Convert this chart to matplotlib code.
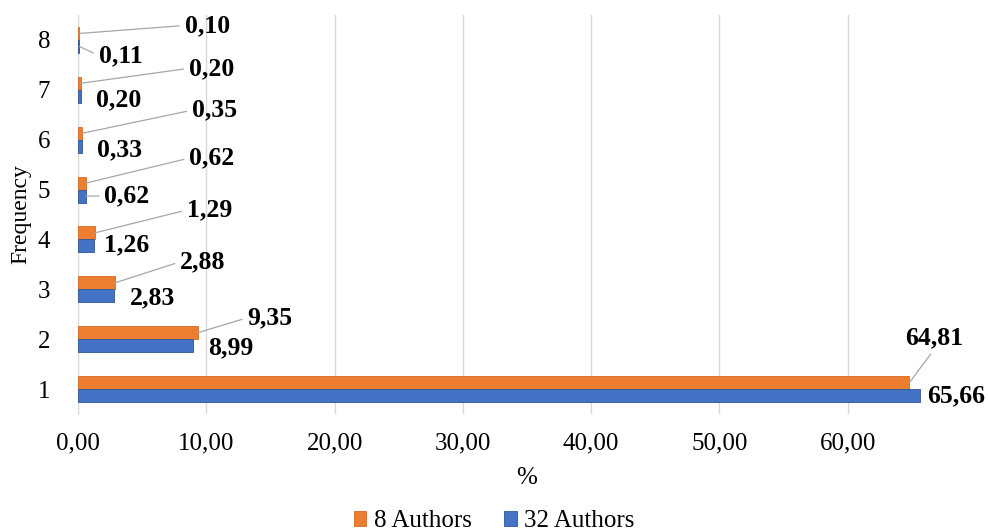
import matplotlib.pyplot as plt
import numpy as np

plt.rcParams['font.family'] = ['Liberation Serif', 'DejaVu Serif']

freq = [1, 2, 3, 4, 5, 6, 7, 8]
authors8 = [64.81, 9.35, 2.88, 1.29, 0.62, 0.35, 0.20, 0.10]
authors32 = [65.66, 8.99, 2.83, 1.26, 0.62, 0.33, 0.20, 0.11]

# label offsets in pixels (text centre relative to bar end)
off8 = [(25, 45), (72, 15), (88, 21), (115, 23), (126, 25), (132, 23), (131, 15), (128, 8)]
off32 = [(36, 0), (37, -2), (38, -2), (32, 1), (41, 0), (37, -4), (38, -4), (41, -9)]
lead32 = [False, False, False, False, True, False, False, True]

orange = '#ED7D31'
blue = '#4472C4'
h = 0.26

fig = plt.figure(figsize=(9.88, 5.31), dpi=100)
ax = fig.add_axes([78/988, 1-414/531, (976-78)/988, (414-15)/531])
y = np.array(freq)
ax.barh(y + h/2, authors8, height=h, color=orange, edgecolor='#D86A20', linewidth=0.6, label='8 Authors', zorder=3)
ax.barh(y - h/2, authors32, height=h, color=blue, edgecolor='#2F5597', linewidth=0.6, label='32 Authors', zorder=3)

ax.set_xlim(0, 70)
ax.set_ylim(0.5, 8.5)
ax.set_xticks(np.arange(0, 61, 10))
ax.set_xticklabels([f'{v:.2f}'.replace('.', ',') for v in np.arange(0, 61, 10)], fontsize=18)
ax.set_yticks(freq)
ax.set_yticklabels([str(f) for f in freq], fontsize=18)
ax.tick_params(axis='x', length=0, pad=13)
ax.tick_params(axis='y', length=0, pad=20)
ax.grid(axis='x', color='#D9D9D9', linewidth=1, zorder=0)
for s in ['top', 'right', 'bottom']:
    ax.spines[s].set_visible(False)
ax.spines['left'].set_color('#D9D9D9')
ax.set_xlabel('%', fontsize=18, labelpad=9)
ax.set_ylabel('Frequency', fontsize=17)
ax.yaxis.set_label_coords(-0.052, 0.5)

lp = dict(arrowstyle='-', color='#A6A6A6', lw=0.9, shrinkA=2, shrinkB=0)
for i, c in enumerate(freq):
    v = authors8[i]
    dx, dy = off8[i]
    rel = (0.5, 0) if i == 0 else (0, 0.5)
    ax.annotate(f'{v:.2f}'.replace('.', ','), xy=(v, c + h/2), xytext=(dx, dy),
                textcoords='offset pixels', ha='center', va='center', fontsize=18.5,
                fontweight='bold', arrowprops=dict(lp, relpos=rel), zorder=4)
    v = authors32[i]
    dx, dy = off32[i]
    ap = dict(lp, relpos=(0, 0.5)) if lead32[i] else None
    ax.annotate(f'{v:.2f}'.replace('.', ','), xy=(v, c - h/2), xytext=(dx, dy),
                textcoords='offset pixels', ha='center', va='center', fontsize=18.5,
                fontweight='bold', arrowprops=ap, zorder=4)

fig.legend(loc='lower center', bbox_to_anchor=(0.5, -0.045), ncol=2, frameon=False,
           fontsize=18, handlelength=0.5, handleheight=0.5, handletextpad=0.3, columnspacing=1.3)

fig.savefig('out.png', dpi=100)
